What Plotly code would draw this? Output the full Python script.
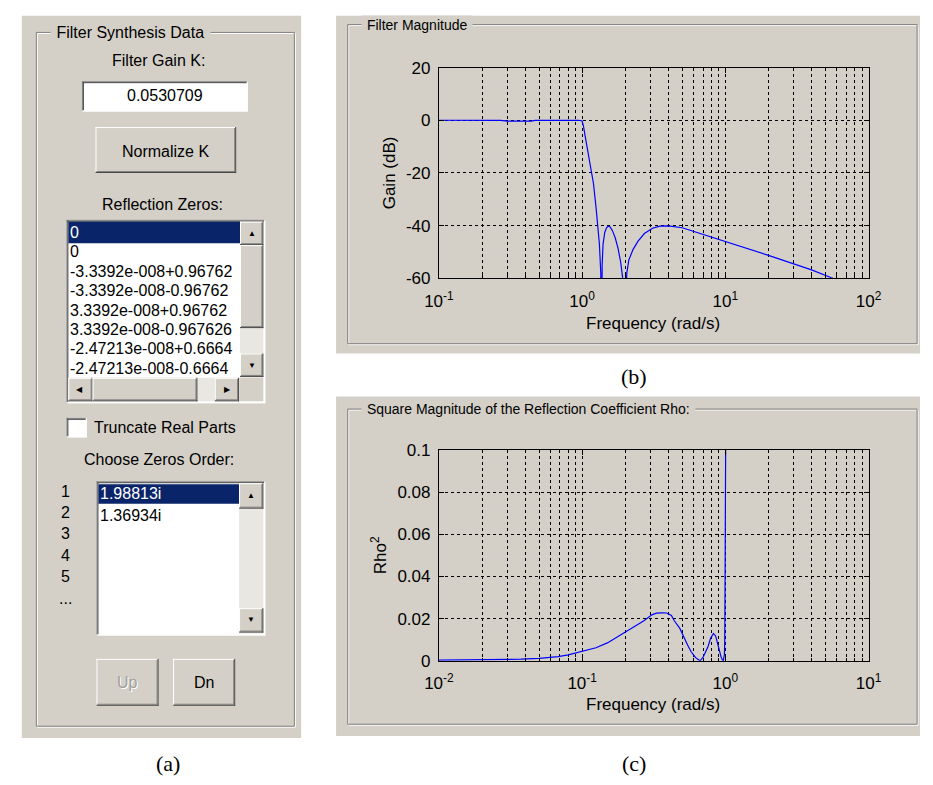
import plotly.graph_objects as go

W, H = 933, 785
GRAY = '#D4D0C8'
DITHER = '#E9E7E2'
NAVY = '#0A246A'
FONT = 'Liberation Sans, Arial, sans-serif'
SERIF = 'Liberation Serif, Times New Roman, serif'

# ---------------- data ----------------
freq_b = [0.1, 0.2, 0.27, 0.30, 0.37, 0.44, 0.47, 0.6, 0.8, 0.95, 1.0, 1.02, 1.05, 1.1,
          1.15, 1.2, 1.25, 1.29, 1.32, 1.35, 1.36, 1.369, 1.38, 1.40, 1.44, 1.48, 1.52,
          1.57, 1.63, 1.70, 1.78, 1.86, 1.93, 1.988, 2.05, 2.12, 2.27, 2.45, 2.72, 3.1,
          3.5, 4.0, 5.0, 6.5, 8.5, 10, 15, 20, 30, 40, 55, 100]
gain_b = [0, 0, -0.05, -0.3, -0.35, -0.3, -0.05, 0, 0, 0, -0.3, -2, -6, -12,
          -18, -24, -33, -40, -47, -58, -64, -90, -55, -47, -42.5, -40.8, -40.2,
          -40.5, -42, -44.5, -48.5, -54, -61, -90, -58, -53, -49, -46, -43, -41,
          -40.2, -40.1, -40.8, -42.8, -44.8, -45.8, -49, -51.3, -54.5, -56.8, -59.8, -64.5]

freq_c = [0.01, 0.02, 0.03, 0.0375, 0.05, 0.068, 0.08, 0.098, 0.125, 0.15, 0.19, 0.227,
          0.27, 0.307, 0.33, 0.36, 0.39, 0.42, 0.44, 0.48, 0.51, 0.545, 0.577, 0.62,
          0.666, 0.70, 0.755, 0.79, 0.826, 0.855, 0.877, 0.905, 0.932, 0.955, 0.9676,
          0.985, 0.99, 0.995, 1.0, 1.004, 1.008, 1.02]
rho2_c = [0.0003, 0.0004, 0.0005, 0.0008, 0.0012, 0.002, 0.0028, 0.0043, 0.0062, 0.0085,
          0.0128, 0.0159, 0.019, 0.0218, 0.0226, 0.0228, 0.0227, 0.0215, 0.019, 0.0155,
          0.0113, 0.0075, 0.0043, 0.0015, 0.0, 0.0018, 0.0066, 0.0108, 0.013, 0.0118,
          0.009, 0.0052, 0.002, 0.0003, 0.0, 0.003, 0.009, 0.036, 0.066, 0.07, 0.1, 0.2]

xexp_b = [-1, 0, 1, 2]
xexp_c = [-2, -1, 0, 1]
ytick_b = [-60, -40, -20, 0, 20]
ytick_c = [0, 0.02, 0.04, 0.06, 0.08, 0.1]
ytext_c = ['0', '0.02', '0.04', '0.06', '0.08', '0.1']

gain_k = '0.0530709'
reflection_zeros = ['0', '0', '-3.3392e-008+0.96762', '-3.3392e-008-0.96762',
                    '3.3392e-008+0.96762', '3.3392e-008-0.967626',
                    '-2.47213e-008+0.6664', '-2.47213e-008-0.6664']
order_labels = ['1', '2', '3', '4', '5', '...']
zeros_order = ['1.98813i', '1.36934i']


def px(x):
    return x / W


def py(y):
    return 1 - y / H


shapes = []
annotations = []


def rect(x0, y0, x1, y1, fill=None, line=None):
    shapes.append(dict(type='rect', xref='paper', yref='paper', layer='below',
                       x0=px(x0), x1=px(x1), y0=py(y1), y1=py(y0),
                       fillcolor=fill if fill else 'rgba(0,0,0,0)',
                       line=dict(color=line if line else 'rgba(0,0,0,0)', width=1 if line else 0)))


def hline(x0, x1, y, color):
    shapes.append(dict(type='line', xref='paper', yref='paper', layer='below',
                       x0=px(x0), x1=px(x1), y0=py(y), y1=py(y), line=dict(color=color, width=1)))


def vline(x, y0, y1, color):
    shapes.append(dict(type='line', xref='paper', yref='paper', layer='below',
                       x0=px(x), x1=px(x), y0=py(y0), y1=py(y1), line=dict(color=color, width=1)))


def raised(x0, y0, x1, y1, fill=GRAY):
    rect(x0, y0, x1, y1, fill=fill)
    hline(x0, x1, y0 + 0.5, '#FFFFFF')
    vline(x0 + 0.5, y0, y1, '#FFFFFF')
    hline(x0, x1, y1 - 0.5, '#404040')
    vline(x1 - 0.5, y0, y1, '#404040')
    hline(x0 + 1, x1 - 1, y1 - 1.5, '#808080')
    vline(x1 - 1.5, y0 + 1, y1 - 1, '#808080')


def sunken(x0, y0, x1, y1, fill='#FFFFFF'):
    rect(x0, y0, x1, y1, fill=fill)
    hline(x0, x1, y0 + 0.5, '#808080')
    vline(x0 + 0.5, y0, y1, '#808080')
    hline(x0 + 1, x1 - 1, y0 + 1.5, '#404040')
    vline(x0 + 1.5, y0 + 1, y1 - 1, '#404040')
    hline(x0, x1, y1 - 0.5, '#FFFFFF')
    vline(x1 - 0.5, y0, y1, '#FFFFFF')


def text(x, y, s, size=16, color='black', xanchor='center', family=FONT, bg=None, angle=0):
    d = dict(xref='paper', yref='paper', x=px(x), y=py(y), text=s, showarrow=False,
             xanchor=xanchor, yanchor='middle', textangle=angle,
             font=dict(size=size, color=color, family=family), borderpad=0)
    if bg:
        d['bgcolor'] = bg
        d['borderpad'] = 1
    annotations.append(d)


def etched(x0, y0, x1, y1, title, size):
    rect(x0 + 1, y0 + 1, x1 + 1, y1 + 1, line='#FFFFFF')
    rect(x0, y0, x1, y1, line='#808080')
    text(x0 + 14, y0, ' ' + title + ' ', size=size, xanchor='left', bg=GRAY)


def arrow(x, y, glyph):
    text(x, y, glyph, size=8, color='black')


# ---------------- panel (a) ----------------
rect(7, 7, 295, 747, fill=GRAY)
etched(22, 24, 288, 735, 'Filter Synthesis Data', 16)
text(148, 53, 'Filter Gain K:')
sunken(69, 74, 240, 105)
text(155, 89, gain_k)
raised(83, 121, 228, 168)
text(155, 146, 'Normalize K')
text(152, 200, 'Reflection Zeros:')

sunken(53, 216, 258, 404)
rect(55, 218, 232, 240, fill=NAVY)
for i, s in enumerate(reflection_zeros):
    text(56, 229 + 19.9 * i, s, xanchor='left', color='#FFFFFF' if i == 0 else 'black')
# vertical scrollbar
rect(232, 218, 256, 378, fill=DITHER)
raised(232, 218, 256, 242)
arrow(244, 230, '▲')
raised(232, 242, 256, 327)
raised(232, 353, 256, 377)
arrow(244, 365, '▼')
# horizontal scrollbar
rect(55, 378, 232, 402, fill=DITHER)
raised(55, 378, 80, 402)
arrow(67, 390, '◀')
raised(80, 378, 188, 402)
raised(206, 378, 231, 402)
arrow(219, 390, '▶')
rect(232, 378, 256, 402, fill=GRAY)

sunken(53, 419, 74, 439)
text(80, 429, 'Truncate Real Parts', xanchor='left')
text(148, 462, 'Choose Zeros Order:')
for i, s in enumerate(order_labels):
    text(52, 494 + 22 * i, s)

sunken(84, 484, 258, 642)
rect(86, 487, 231, 507, fill=NAVY)
for i, s in enumerate(zeros_order):
    text(87, 497 + 22 * i, s, xanchor='left', color='#FFFFFF' if i == 0 else 'black')
rect(231, 486, 256, 640, fill=DITHER)
raised(231, 486, 256, 512)
arrow(243, 499, '▲')
raised(231, 614, 256, 639)
arrow(243, 626, '▼')

raised(84, 666, 148, 714)
text(117, 691, 'Up', color='#FFFFFF')
text(116, 690, 'Up', color='#A0A0A0')
raised(163, 666, 227, 714)
text(195, 690, 'Dn')
text(158, 773, '(a)', size=22, family=SERIF)

# ---------------- panel (b) ----------------
rect(331, 7, 933, 353, fill=GRAY)
etched(343, 16, 930, 343, 'Filter Magnitude', 14)
text(387, 168, 'Gain (dB)', size=17, angle=-90)
text(658, 322, 'Frequency (rad/s)', size=17)
text(638, 377, '(b)', size=22, family=SERIF)

# ---------------- panel (c) ----------------
rect(331, 397, 933, 745, fill=GRAY)
etched(343, 410, 930, 733, 'Square Magnitude of the Reflection Coefficient Rho:', 14)
text(376, 560, 'Rho<sup>2</sup>', size=17, angle=-90)
text(658, 713, 'Frequency (rad/s)', size=17)
text(638, 773, '(c)', size=22, family=SERIF)

# ---------------- traces ----------------
fig = go.Figure()
fig.add_trace(go.Scatter(x=freq_b, y=gain_b, mode='lines', line=dict(color='#0000FF', width=1.2),
                         xaxis='x', yaxis='y', hoverinfo='x+y'))
fig.add_trace(go.Scatter(x=freq_c, y=rho2_c, mode='lines', line=dict(color='#0000FF', width=1.2),
                         xaxis='x2', yaxis='y2', hoverinfo='x+y'))

GRID = dict(showgrid=True, gridcolor='black', griddash='3px,3px', gridwidth=1)


def xaxis(exps, anchor):
    minor_vals = [m * 10 ** e for e in exps[:-1] for m in range(2, 10)]
    return dict(type='log', domain=[px(437), px(880)], anchor=anchor,
                range=[exps[0], exps[-1]], tickmode='array',
                tickvals=[10 ** e for e in exps],
                ticktext=['10<sup>%d</sup>' % e for e in exps],
                ticks='inside', ticklen=5, tickcolor='black', ticklabelstandoff=7,
                minor=dict(tickmode='array', tickvals=minor_vals, ticks='inside', ticklen=3,
                           tickcolor='black', **GRID),
                showline=True, linecolor='black', linewidth=1, mirror='ticks',
                tickfont=dict(size=17, family=FONT, color='black'), zeroline=False,
                **GRID)


def yaxis(vals, texts, rng, anchor, y0, y1):
    return dict(domain=[py(y1), py(y0)], anchor=anchor, range=rng, tickmode='array',
                tickvals=vals, ticktext=texts, ticks='inside', ticklen=5, tickcolor='black',
                ticklabelstandoff=4,
                showline=True, linecolor='black', linewidth=1, mirror='ticks',
                tickfont=dict(size=17, family=FONT, color='black'), zeroline=False,
                **GRID)


fig.update_layout(
    width=W, height=H, margin=dict(l=0, r=0, t=0, b=0, pad=0),
    paper_bgcolor='#FFFFFF', plot_bgcolor='#FFFFFF', showlegend=False,
    xaxis=xaxis(xexp_b, 'y'),
    yaxis=yaxis(ytick_b, [str(v) for v in ytick_b], [-60, 20], 'x', 60, 276),
    xaxis2=xaxis(xexp_c, 'y2'),
    yaxis2=yaxis(ytick_c, ytext_c, [0, 0.1], 'x2', 452, 668),
    shapes=shapes, annotations=annotations,
)

fig.write_html('out.html', config={'displayModeBar': False},
               post_script="document.body.style.margin='0';")
